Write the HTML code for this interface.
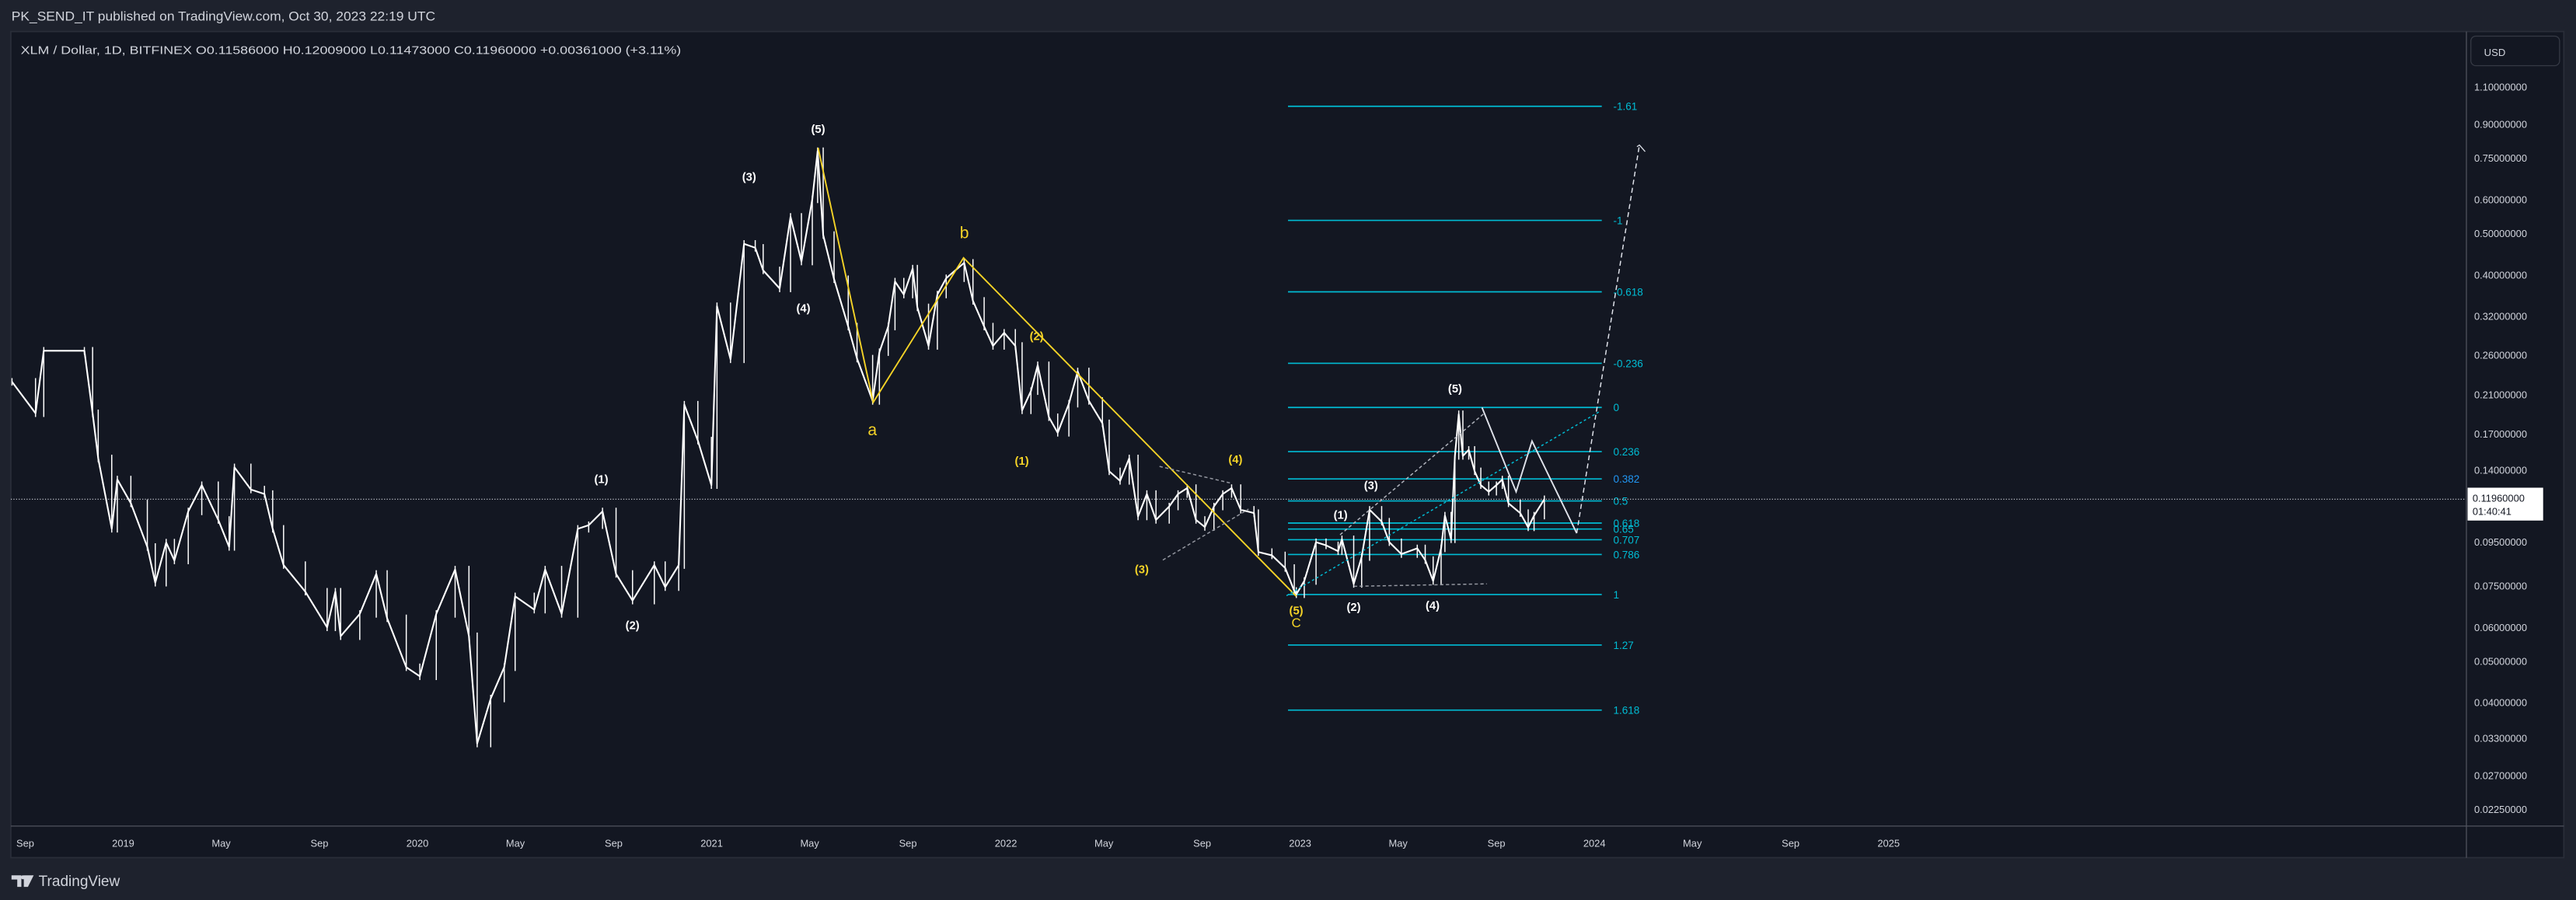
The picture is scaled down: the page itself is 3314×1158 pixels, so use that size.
<!DOCTYPE html>
<html><head><meta charset="utf-8"><title>XLM / Dollar chart</title>
<style>
html,body{margin:0;padding:0;background:#1e222d;}
svg{display:block;}
text{font-family:"Liberation Sans",sans-serif;}
</style></head>
<body>
<svg id="root" width="3314" height="1158" viewBox="0 0 1568 548" preserveAspectRatio="none" xmlns="http://www.w3.org/2000/svg">
  <rect x="0" y="0" width="1568" height="548" fill="#1e222d"/>
  <text x="7" y="12.5" font-size="8" fill="#d1d4dc" textLength="258" lengthAdjust="spacingAndGlyphs">PK_SEND_IT published on TradingView.com, Oct 30, 2023 22:19 UTC</text>
  <rect x="6.6" y="19.2" width="1554" height="503" fill="#131722" stroke="#2a2e39" stroke-width="0.8"/>
  <line x1="1501.3" y1="19.2" x2="1501.3" y2="522.3" stroke="#50535e" stroke-width="0.6"/>
  <line x1="6.6" y1="503" x2="1560.6" y2="503" stroke="#50535e" stroke-width="0.6"/>
  <text x="12.6" y="33" font-size="7" fill="#d1d4dc" textLength="402" lengthAdjust="spacingAndGlyphs">XLM / Dollar, 1D, BITFINEX  O0.11586000  H0.12009000  L0.11473000  C0.11960000  +0.00361000 (+3.11%)</text>
  <rect x="1504" y="22" width="54" height="18" rx="3" fill="#131722" stroke="#363a45" stroke-width="0.6"/>
  <text x="1512" y="34" font-size="6.2" fill="#d1d4dc">USD</text>
  <defs><clipPath id="plotclip"><rect x="6.6" y="19.2" width="1494.7" height="483.8"/></clipPath></defs>
  <g id="plot" clip-path="url(#plotclip)"></g>
  <g id="axes"></g>
  <g>
    <path d="M7,533 h6 v7 h-2.5 v-4.5 h-3.5z M14.5,533 h6 l-3.5,7 h-2.5z" fill="#d1d4dc"/>
    <circle cx="14" cy="534.2" r="1.2" fill="#d1d4dc"/>
    <text x="23.5" y="539.5" font-size="9" fill="#d1d4dc">TradingView</text>
  </g>
</svg>
<script>
// ---- data ----
const dates = [2018.622,2018.702,2018.730,2018.868,2018.896,2018.915,2018.961,2018.980,2019.026,2019.082,2019.109,2019.146,2019.174,2019.221,2019.267,2019.323,2019.360,2019.378,2019.434,2019.480,2019.508,2019.545,2019.619,2019.693,2019.721,2019.739,2019.804,2019.860,2019.897,2019.962,2020.008,2020.064,2020.128,2020.175,2020.203,2020.249,2020.295,2020.332,2020.397,2020.434,2020.490,2020.545,2020.582,2020.629,2020.675,2020.731,2020.805,2020.842,2020.888,2020.907,2020.953,2020.999,2021.018,2021.064,2021.110,2021.148,2021.175,2021.231,2021.268,2021.305,2021.342,2021.360,2021.379,2021.416,2021.464,2021.494,2021.547,2021.570,2021.600,2021.623,2021.653,2021.683,2021.699,2021.737,2021.767,2021.797,2021.858,2021.888,2021.926,2021.956,2021.994,2022.032,2022.055,2022.085,2022.108,2022.146,2022.176,2022.214,2022.244,2022.282,2022.328,2022.351,2022.388,2022.419,2022.449,2022.479,2022.510,2022.555,2022.585,2022.616,2022.646,2022.676,2022.707,2022.737,2022.767,2022.798,2022.843,2022.858,2022.904,2022.949,2022.980,2022.987,2023.014,2023.054,2023.088,2023.129,2023.142,2023.182,2023.209,2023.236,2023.277,2023.303,2023.344,2023.398,2023.425,2023.452,2023.479,2023.492,2023.513,2023.526,2023.539,2023.553,2023.573,2023.593,2023.614,2023.641,2023.667,2023.687,2023.708,2023.748,2023.775,2023.795,2023.830];
const closes = [0.225,0.190,0.266,0.266,0.190,0.149,0.102,0.133,0.117,0.0925,0.0763,0.0947,0.0860,0.112,0.129,0.107,0.0925,0.142,0.126,0.123,0.102,0.0839,0.0727,0.060,0.0727,0.0572,0.0645,0.080,0.063,0.0484,0.0461,0.0645,0.0819,0.0572,0.0321,0.0409,0.0484,0.0709,0.0660,0.0819,0.0645,0.102,0.104,0.112,0.080,0.0693,0.0839,0.0745,0.0839,0.199,0.164,0.129,0.338,0.254,0.473,0.463,0.410,0.372,0.547,0.430,0.601,0.779,0.496,0.391,0.303,0.255,0.203,0.264,0.303,0.386,0.360,0.414,0.336,0.273,0.360,0.393,0.427,0.348,0.303,0.273,0.293,0.273,0.193,0.214,0.246,0.186,0.171,0.200,0.238,0.203,0.180,0.139,0.132,0.149,0.109,0.123,0.107,0.115,0.123,0.127,0.107,0.103,0.115,0.123,0.127,0.113,0.111,0.090,0.0884,0.0826,0.0730,0.0717,0.0770,0.0949,0.0933,0.0904,0.0964,0.0758,0.0876,0.113,0.106,0.0949,0.089,0.0918,0.0862,0.0770,0.0918,0.1095,0.0964,0.151,0.189,0.151,0.156,0.139,0.129,0.1245,0.129,0.133,0.117,0.111,0.1028,0.1095,0.1196];
const projDates = [2023.618,2023.734,2023.788,2023.940];
const projPrices = [0.196,0.1245,0.1635,0.0996];
const targetDates = [2023.940,2024.153];
const targetPrices = [0.0996,0.805];
const fibLevels = [-1.61,-1,-0.618,-0.236,0,0.236,0.382,0.5,0.618,0.65,0.707,0.786,1,1.27,1.618];
const fibLabels = ["-1.61","-1","-0.618","-0.236","0","0.236","0.382","0.5","0.618","0.65","0.707","0.786","1","1.27","1.618"];
const fibHigh = 0.196, fibLow = 0.0716;
const priceTicks = [1.1,0.9,0.75,0.6,0.5,0.4,0.32,0.26,0.21,0.17,0.14,0.095,0.075,0.06,0.05,0.04,0.033,0.027,0.0225];
const timeTickDates = [2018.667,2019,2019.333,2019.667,2020,2020.333,2020.667,2021,2021.333,2021.667,2022,2022.333,2022.667,2023,2023.333,2023.667,2024,2024.333,2024.667,2025];
const timeTickLabels = ["Sep","2019","May","Sep","2020","May","Sep","2021","May","Sep","2022","May","Sep","2023","May","Sep","2024","May","Sep","2025"];
const lastPrice = 0.1196;

// ---- axis functions ----
function xOf(t){ return 75 + 179.1*(t-2019); }
function yOf(p){ return 53 + 113.1*(Math.log(1.1) - Math.log(p)); }

const NS = "http://www.w3.org/2000/svg";
const plot = document.getElementById('plot');
const axes = document.getElementById('axes');
function mk(tag, attrs, parent){
  const e = document.createElementNS(NS, tag);
  for (const k in attrs) e.setAttribute(k, attrs[k]);
  parent.appendChild(e);
  return e;
}

// fib lines
fibLevels.forEach((lv, i) => {
  const lp = Math.log(fibHigh) + lv*(Math.log(fibLow)-Math.log(fibHigh));
  const y = yOf(Math.exp(lp));
  const l = mk('line', {x1:784, x2:975, y1:y, y2:y, stroke:'#00bcd4', 'stroke-width':0.8}, plot);
  
  
  const t = mk('text', {x:982, y:y+2.3, 'font-size':6.4, fill: lv===0.382 ? '#2196f3' : '#00bcd4'}, plot);
  t.textContent = fibLabels[i];
  
  
});

// current price line
const cy = yOf(lastPrice);
const pl = mk('line', {x1:6.6, x2:1501, y1:cy, y2:cy, stroke:'#d1d4dc', 'stroke-width':0.5, 'stroke-dasharray':'0.6 1'}, plot);



// candles
for (let i = 0; i < dates.length; i++) {
  const o = i > 0 ? closes[i-1] : closes[i];
  const c = closes[i];
  const hi = Math.max(o, c)*1.02, lo = Math.min(o, c)*0.98;
  const x = xOf(dates[i]);
  const w = mk('line', {x1:x, x2:x, y1:yOf(hi), y2:yOf(lo), stroke:'#ffffff', 'stroke-width':0.7}, plot);
  
  
}
const pts = dates.map((d,i)=> xOf(d).toFixed(2)+','+yOf(closes[i]).toFixed(2)).join(' ');
const pline = mk('polyline', {points:pts, fill:'none', stroke:'#ffffff', 'stroke-width':1.0, 'stroke-linejoin':'round'}, plot);



// projection
const ppts = projDates.map((d,i)=> xOf(d)+','+yOf(projPrices[i])).join(' ');
const proj = mk('polyline', {points:ppts, fill:'none', stroke:'#e0e3eb', 'stroke-width':0.9}, plot);


const tx1 = xOf(targetDates[0]), ty1 = yOf(targetPrices[0]), tx2 = xOf(targetDates[1]), ty2 = yOf(targetPrices[1]);
const tgt = mk('line', {x1:tx1, y1:ty1, x2:tx2, y2:ty2, stroke:'#e0e3eb', 'stroke-width':0.7, 'stroke-dasharray':'3 2'}, plot);


const arr = mk('polyline', {points:(tx2-1.5)+','+(ty2+1)+' '+tx2+','+ty2+' '+(tx2+3.5)+','+(ty2+4), fill:'none', stroke:'#e0e3eb', 'stroke-width':0.6}, plot);



// yellow abc wave lines
const abc = mk('polyline', {points:'498,90 531.5,245 586.5,157 789,363', fill:'none', stroke:'#f5d327', 'stroke-width':0.9}, plot);



// dashed helper lines
const dashes = [
  [705.8,284,749.8,294.3,'#9598a1','2 1.5'],
  [707.8,341,760,310,'#9598a1','2 1.5'],
  [824.1,357,905,355.5,'#9598a1','2 1.5'],
  [815.7,325.6,903.8,251.4,'#b2b5be','2 1.5'],
  [783.1,362.7,973.8,250.5,'#00bcd4','1.5 1.5']
];
dashes.forEach(d => {
  const l = mk('line', {x1:d[0], y1:d[1], x2:d[2], y2:d[3], stroke:d[4], 'stroke-width':0.7, 'stroke-dasharray':d[5]}, plot);
  
  
});

// wave labels
const labels = [
  ['(5)',498,81,'#ffffff',7],['(3)',456,110,'#ffffff',7],['(4)',489,190,'#ffffff',7],
  ['(1)',366,294,'#ffffff',7],['(2)',385,383,'#ffffff',7],
  ['b',587,145,'#f5d327',10],['a',531,265,'#f5d327',10],
  ['(2)',631,207,'#f5d327',7],['(1)',622,283,'#f5d327',7],['(4)',752,282,'#f5d327',7],
  ['(3)',695,349,'#f5d327',7],['(5)',789,374,'#f5d327',7],['C',789,382,'#f5d327',8],
  ['(1)',816,316,'#ffffff',7],['(3)',834.5,298,'#ffffff',7],['(2)',824,372,'#ffffff',7],
  ['(4)',872,371,'#ffffff',7],['(5)',885.7,239,'#ffffff',7]
];
labels.forEach(L => {
  const t = mk('text', {x:L[1], y:L[2], 'font-size':L[4], fill:L[3], 'text-anchor':'middle', 'font-weight': L[4]===10||L[0]==='C' ? 'normal' : 'bold'}, plot);
  t.textContent = L[0];
  
  
});

// price axis ticks
priceTicks.forEach(p => {
  const t = mk('text', {x:1506, y:yOf(p)+2.2, 'font-size':6.1, fill:'#d1d4dc'}, axes);
  t.textContent = p.toFixed(8);
  
  
});
// last price tag
const tag = mk('rect', {x:1502, y:cy-7, width:46, height:20, fill:'#ffffff'}, axes);


const t1 = mk('text', {x:1505, y:cy+1.5, 'font-size':6.1, fill:'#131722'}, axes);
t1.textContent = lastPrice.toFixed(8);


const t2 = mk('text', {x:1505, y:cy+9.5, 'font-size':6.1, fill:'#131722'}, axes);
t2.textContent = '01:40:41';



// time axis ticks
timeTickDates.forEach((d, i) => {
  const t = mk('text', {x:xOf(d), y:515.5, 'font-size':6.1, fill:'#d1d4dc', 'text-anchor':'middle'}, axes);
  t.textContent = timeTickLabels[i];
  
  
});
</script>
</body></html>
